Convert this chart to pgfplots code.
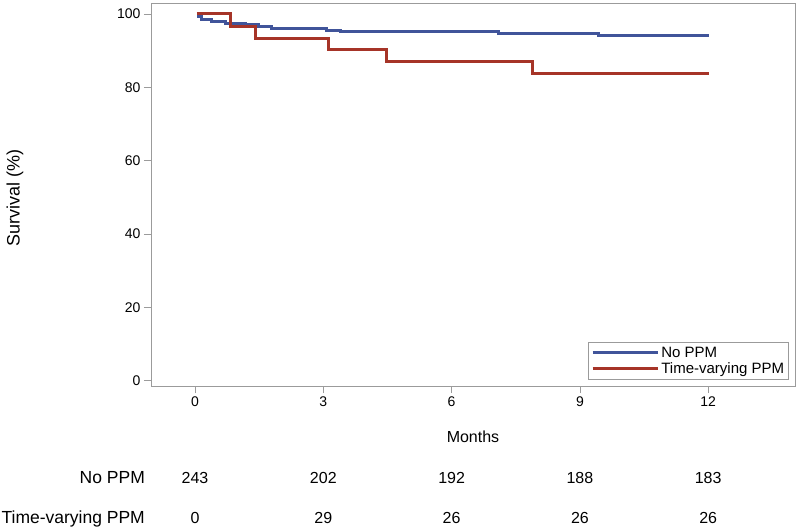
\documentclass[border=0pt]{standalone}
\usepackage{fontspec}
\setmainfont{Liberation Sans}
\usepackage{pgfplots}
\pgfplotsset{compat=1.18}
\definecolor{kmblue}{RGB}{64,84,154}
\definecolor{kmred}{RGB}{166,52,40}
\definecolor{axgray}{RGB}{155,155,155}
\tikzset{
 risk/.style={anchor=base, inner sep=0pt, font=\fontsize{16bp}{18bp}\selectfont},
 rlab/.style={anchor=base east, inner sep=0pt, font=\fontsize{17.5bp}{19bp}\selectfont},
}
\begin{document}
\begin{tikzpicture}
\useasboundingbox (-151bp,-141bp) rectangle (649bp,386bp);
\begin{axis}[
 at={(0,0)}, anchor=south west,
 scale only axis, width=644bp, height=383bp,
 xmin=-1.03, xmax=14.03, ymin=-1.45, ymax=103,
 axis line style={axgray, line width=0.8bp},
 xtick={0,3,6,9,12}, ytick={0,20,40,60,80,100},
 tick align=outside, major tick length=7bp,
 tick style={axgray, line width=0.8bp},
 xtick pos=bottom, ytick pos=left,
 tick label style={font=\fontsize{14bp}{16bp}\selectfont, black},
 /pgf/number format/assume math mode=true,
 xlabel={Months}, ylabel={Survival (\%)},
 every axis x label/.style={at={(axis description cs:0.5,-0.1332)}, anchor=center, font=\fontsize{16bp}{18bp}\selectfont},
 every axis y label/.style={at={(axis description cs:-0.2112,0.49)}, anchor=center, rotate=90, font=\fontsize{18bp}{20bp}\selectfont},
 clip=false,
 legend style={at={(axis description cs:0.9907,0.0157)}, anchor=south east, draw=axgray, line width=0.8bp, font=\fontsize{15bp}{17bp}\selectfont, inner xsep=2.5bp, inner ysep=2.5bp, row sep=0bp, cells={anchor=west}},
 legend image code/.code={\draw[#1] (0bp,0bp) -- (61bp,0bp); \path (0bp,0bp) -- (65bp,0bp);},
]
\addplot[const plot, kmblue, line width=3bp] coordinates {
 (0.04,100) (0.09,99.3) (0.16,98.5) (0.39,98.0) (0.72,97.5) (1.19,97.0) (1.48,96.5) (1.79,96.0) (3.08,95.6) (3.39,95.1) (7.09,94.7) (9.43,94.2) (12.02,94.2)};
\addlegendentry{No PPM}
\addplot[const plot, kmred, line width=3bp] coordinates {
 (0.04,100) (0.83,96.7) (1.42,93.4) (3.13,90.2) (4.48,87.0) (7.90,83.8) (12.02,83.8)};
\addlegendentry{Time-varying PPM}
% number at risk
\node[rlab] at (axis cs:-1.169,-27.99) {No PPM};
\node[rlab] at (axis cs:-1.169,-38.89) {Time-varying PPM};
\node[risk] at (axis cs:0,-27.99) {243};
\node[risk] at (axis cs:3,-27.99) {202};
\node[risk] at (axis cs:6,-27.99) {192};
\node[risk] at (axis cs:9,-27.99) {188};
\node[risk] at (axis cs:12,-27.99) {183};
\node[risk] at (axis cs:0,-38.89) {0};
\node[risk] at (axis cs:3,-38.89) {29};
\node[risk] at (axis cs:6,-38.89) {26};
\node[risk] at (axis cs:9,-38.89) {26};
\node[risk] at (axis cs:12,-38.89) {26};
\end{axis}
\end{tikzpicture}
\end{document}
